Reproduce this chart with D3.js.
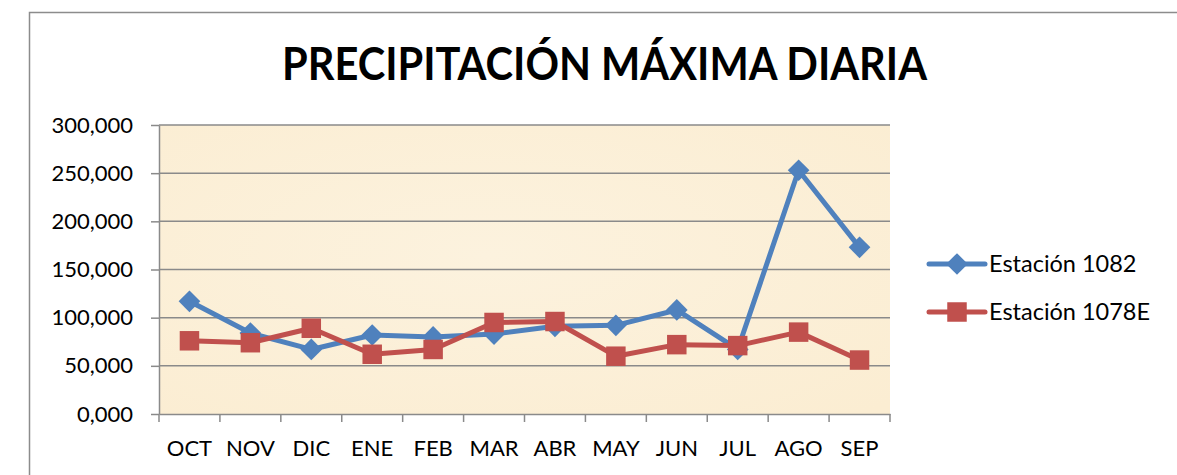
<!DOCTYPE html>
<html lang="es">
<head>
<meta charset="UTF-8">
<title>Precipitación máxima diaria</title>
<script src="https://cdn.jsdelivr.net/npm/d3@7"></script>
<style>
  html, body { margin: 0; padding: 0; background: #fff; }
  svg { display: block; font-family: Lato, "Open Sans", sans-serif; }
  .tick-label { font-size: 22px; fill: #000; }
  .legend-label { font-size: 23.5px; fill: #000; }
</style>
</head>
<body>
<svg id="chart" width="1177" height="475"></svg>
<script>
// Datos
const meses = ['OCT', 'NOV', 'DIC', 'ENE', 'FEB', 'MAR', 'ABR', 'MAY', 'JUN', 'JUL', 'AGO', 'SEP'];
const estacion1082 = [117, 84, 67, 82, 80, 83, 91, 92, 108, 67, 253, 173];
const estacion1078E = [76, 74, 89, 62, 67, 95, 96, 60, 72, 71, 85, 56];
const yTicks = [0, 50, 100, 150, 200, 250, 300];

const series = [
    { name: 'Estación 1082', values: estacion1082, color: '#4F81BD', marker: 'diamond' },
    { name: 'Estación 1078E', values: estacion1078E, color: '#C0504D', marker: 'square' }
];

const svg = d3.select('#chart');
const plot = { left: 159, right: 890, top: 125, bottom: 414 };

// formato con coma decimal
const fmt = d3.formatLocale({ decimal: ',', thousands: '.', grouping: [3], currency: ['', ''] }).format('.3f');

const x = d3.scaleBand().domain(meses).range([plot.left, plot.right]);
const y = d3.scaleLinear().domain([0, 300]).range([plot.bottom, plot.top]);

// marco del gráfico (se sale de la ventana por la derecha y abajo)
svg.append('rect')
    .attr('x', 29.5).attr('y', 12.5)
    .attr('width', 1300).attr('height', 600)
    .attr('fill', '#fff')
    .attr('stroke', '#8c8c8c')
    .attr('stroke-width', 1.5);

// fondo tipo pergamino
const defs = svg.append('defs');
const grad = defs.append('radialGradient').attr('id', 'paper').attr('cx', '45%').attr('cy', '45%').attr('r', '75%');
grad.append('stop').attr('offset', '0%').attr('stop-color', '#fcf2de');
grad.append('stop').attr('offset', '100%').attr('stop-color', '#fbedd2');

svg.append('rect')
    .attr('x', plot.left).attr('y', plot.top)
    .attr('width', plot.right - plot.left).attr('height', plot.bottom - plot.top)
    .attr('fill', 'url(#paper)');

// título
svg.append('text')
    .attr('x', 604.5).attr('y', 80)
    .attr('text-anchor', 'middle')
    .attr('textLength', 645)
    .attr('lengthAdjust', 'spacingAndGlyphs')
    .style('font-size', '46px')
    .style('font-weight', 'bold')
    .text('PRECIPITACIÓN MÁXIMA DIARIA');

// líneas de cuadrícula
svg.append('g')
    .selectAll('line')
    .data(yTicks.filter(d => d > 0))
    .enter()
    .append('line')
    .attr('x1', plot.left).attr('x2', plot.right)
    .attr('y1', d => y(d)).attr('y2', d => y(d))
    .attr('stroke', '#8a8a8a')
    .attr('stroke-width', 1.5);

// eje Y
const yAxis = svg.append('g')
    .attr('transform', `translate(${plot.left},0)`)
    .call(d3.axisLeft(y).tickValues(yTicks).tickFormat(fmt).tickSizeInner(8).tickSizeOuter(0).tickPadding(18))
    .attr('font-family', null)
    .attr('font-size', null);
yAxis.select('.domain').attr('stroke', '#8a8a8a').attr('stroke-width', 1.5);
yAxis.selectAll('.tick line').attr('stroke', '#8a8a8a').attr('stroke-width', 1.5);
yAxis.selectAll('text').attr('class', 'tick-label');

// eje X
const xAxis = svg.append('g')
    .attr('transform', `translate(0,${plot.bottom})`)
    .call(d3.axisBottom(x).tickSize(0).tickPadding(26))
    .attr('font-family', null)
    .attr('font-size', null);
xAxis.select('.domain').attr('stroke', '#8a8a8a').attr('stroke-width', 1.5);
xAxis.selectAll('text').attr('class', 'tick-label');

// marcas en los límites de cada categoría
svg.append('g')
    .selectAll('line')
    .data(d3.range(meses.length + 1))
    .enter()
    .append('line')
    .attr('x1', i => plot.left + i * x.step())
    .attr('x2', i => plot.left + i * x.step())
    .attr('y1', plot.bottom)
    .attr('y2', plot.bottom + 8)
    .attr('stroke', '#8a8a8a')
    .attr('stroke-width', 1.5);

const line = d3.line()
    .x((d, i) => x(meses[i]) + x.bandwidth() / 2)
    .y(d => y(d));

const diamond = d3.symbol().type(d3.symbolDiamond2).size(300);
const square = d3.symbol().type(d3.symbolSquare).size(380);

series.forEach(s => {
    svg.append('path')
        .datum(s.values)
        .attr('d', line)
        .attr('fill', 'none')
        .attr('stroke', s.color)
        .attr('stroke-width', 5)
        .attr('stroke-linejoin', 'round');

    svg.append('g')
        .selectAll('path')
        .data(s.values)
        .enter()
        .append('path')
        .attr('transform', (d, i) => `translate(${x(meses[i]) + x.bandwidth() / 2},${y(d)})`)
        .attr('d', s.marker === 'diamond' ? diamond : square)
        .attr('fill', s.color);
});

// leyenda
const legend = svg.append('g').attr('transform', 'translate(929,264)');
series.forEach((s, i) => {
    const item = legend.append('g').attr('transform', `translate(0,${i * 48})`);
    item.append('line')
        .attr('x1', 0).attr('x2', 56)
        .attr('stroke', s.color)
        .attr('stroke-width', 5)
        .attr('stroke-linecap', 'round');
    item.append('path')
        .attr('transform', 'translate(28,0)')
        .attr('d', s.marker === 'diamond' ? diamond : square)
        .attr('fill', s.color);
    item.append('text')
        .attr('class', 'legend-label')
        .attr('x', 60)
        .attr('dy', '0.36em')
        .text(s.name);
});
</script>
</body>
</html>
